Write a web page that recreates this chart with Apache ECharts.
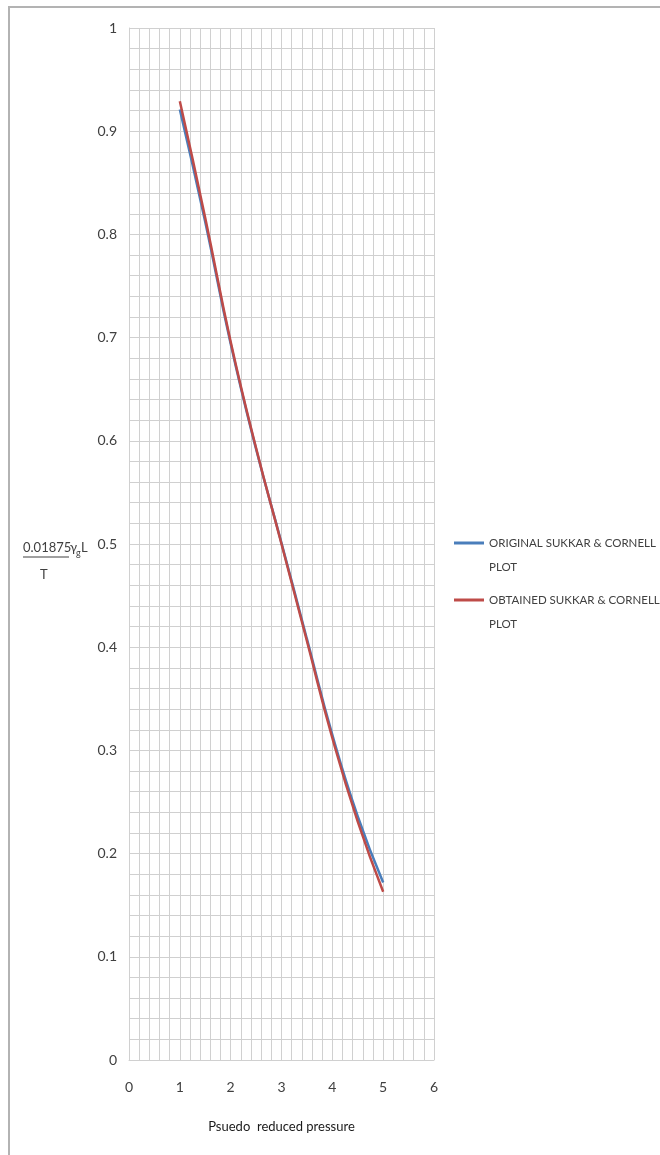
<!DOCTYPE html>
<html><head><meta charset="utf-8">
<script src="https://cdn.jsdelivr.net/npm/echarts@6/dist/echarts.min.js"></script>
<style>html,body{margin:0;padding:0;background:#fff}#c{width:660px;height:1155px}</style>
</head><body><div id="c"></div>
<script>
var xValues = [1, 1.5, 2, 2.5, 3, 3.5, 4, 4.5, 5];
var originalValues = [0.921, 0.812, 0.694, 0.592, 0.501, 0.408, 0.315, 0.236, 0.172];
var obtainedValues = [0.929, 0.816, 0.696, 0.593, 0.500, 0.406, 0.312, 0.231, 0.163];
var seriesNames = ['ORIGINAL SUKKAR & CORNELL\nPLOT', 'OBTAINED SUKKAR & CORNELL\nPLOT'];
var xTitle = 'Psuedo  reduced pressure';

var FONT = "Lato,'Open Sans',sans-serif";
function pairs(xs, ys){ return xs.map(function(x,i){ return [x, ys[i]]; }); }

var chart = echarts.init(document.getElementById('c'), null, {renderer:'canvas'});
chart.setOption({
  animation: false,
  backgroundColor: '#fff',
  grid: {left: 129, top: 28, width: 305, height: 1032, containLabel: false},
  xAxis: {
    type: 'value', min: 0, max: 6, interval: 1,
    name: xTitle, nameLocation: 'middle', nameGap: 60,
    nameTextStyle: {fontFamily: FONT, fontSize: 13, color: '#1a1a1a'},
    axisLine: {show: true, lineStyle: {color: '#d0d0d0', width: 1}},
    axisTick: {show: false},
    axisLabel: {fontFamily: FONT, fontSize: 14, color: '#404040', margin: 20},
    splitLine: {show: true, lineStyle: {color: '#d0d0d0', width: 1}},
    minorTick: {show: false, splitNumber: 5},
    minorSplitLine: {show: true, lineStyle: {color: '#d0d0d0', width: 1}}
  },
  yAxis: {
    type: 'value', min: 0, max: 1, interval: 0.1,
    axisLine: {show: true, lineStyle: {color: '#d0d0d0', width: 1}},
    axisTick: {show: false},
    axisLabel: {fontFamily: FONT, fontSize: 14, color: '#404040', margin: 12},
    splitLine: {show: true, lineStyle: {color: '#d0d0d0', width: 1}},
    minorTick: {show: false, splitNumber: 5},
    minorSplitLine: {show: true, lineStyle: {color: '#d0d0d0', width: 1}}
  },
  legend: {
    orient: 'vertical', left: 454, top: 507, itemGap: -15, padding: 0,
    itemWidth: 30, itemHeight: 3, icon: 'rect',
    formatter: function (name) { return '\n' + name; },
    textStyle: {fontFamily: FONT, fontSize: 11.5, color: '#404040', lineHeight: 24},
    data: seriesNames
  },
  series: [
    {name: seriesNames[0], type: 'line', data: pairs(xValues, originalValues), smooth: true,
     showSymbol: false, symbol: 'none', color: '#4a7ebb', lineStyle: {width: 2.5, color: '#4a7ebb'}},
    {name: seriesNames[1], type: 'line', data: pairs(xValues, obtainedValues), smooth: true,
     showSymbol: false, symbol: 'none', color: '#be4b48', lineStyle: {width: 2.5, color: '#be4b48'}}
  ],
  graphic: [
    {type: 'polyline', shape: {points: [[9, 1160], [9, 7], [670, 7]]},
     style: {stroke: '#b3b3b3', lineWidth: 2, fill: null}},
    {type: 'text', left: 23, top: 541, style: {text: '0.01875', font: '13px ' + FONT, fill: '#404040'}},
    {type: 'text', left: 70, top: 541, style: {text: 'γ', font: '13px ' + FONT, fill: '#404040'}},
    {type: 'text', left: 76, top: 549, style: {text: 'g', font: '9px ' + FONT, fill: '#404040'}},
    {type: 'text', left: 81, top: 541, style: {text: 'L', font: '13px ' + FONT, fill: '#404040'}},
    {type: 'line', shape: {x1: 23, y1: 557, x2: 69, y2: 557}, style: {stroke: '#404040', lineWidth: 1}},
    {type: 'text', left: 40, top: 568, style: {text: 'T', font: '13px ' + FONT, fill: '#404040'}}
  ]
});
</script></body></html>
